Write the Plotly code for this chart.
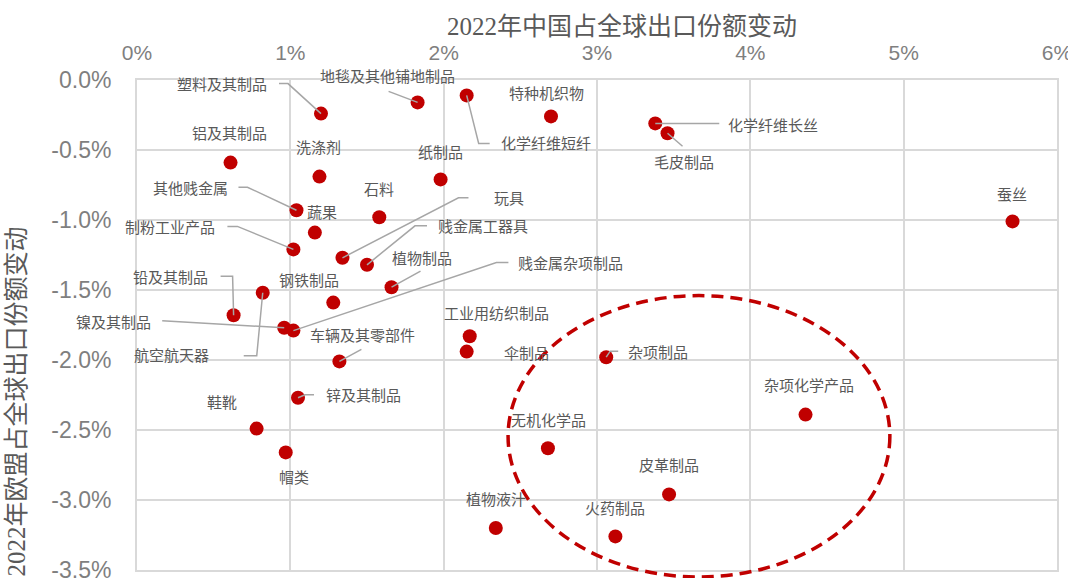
import plotly.graph_objects as go

# 2022 change in China's share of world exports (x, %) vs change in the EU's share (y, %)
categories = [
    "塑料及其制品", "地毯及其他铺地制品", "化学纤维短纤", "特种机织物", "化学纤维长丝",
    "毛皮制品", "蚕丝", "铝及其制品", "洗涤剂", "纸制品",
    "其他贱金属", "蔬果", "石料", "制粉工业产品", "玩具",
    "贱金属工器具", "植物制品", "钢铁制品", "铅及其制品", "航空航天器",
    "镍及其制品", "贱金属杂项制品", "车辆及其零部件", "工业用纺织制品", "伞制品",
    "杂项制品", "杂项化学产品", "无机化学品", "皮革制品", "火药制品",
    "植物液汁", "锌及其制品", "鞋靴", "帽类",
]
china_share_change = [
    1.20, 1.83, 2.15, 2.70, 3.38,
    3.46, 5.71, 0.61, 1.19, 1.98,
    1.04, 1.16, 1.58, 1.02, 1.34,
    1.50, 1.66, 1.28, 0.63, 0.82,
    0.96, 1.02, 1.32, 2.17, 2.15,
    3.06, 4.36, 2.68, 3.47, 3.12,
    2.34, 1.05, 0.78, 0.97,
]
eu_share_change = [
    -0.24, -0.16, -0.11, -0.26, -0.31,
    -0.38, -1.01, -0.59, -0.69, -0.71,
    -0.93, -1.09, -0.98, -1.21, -1.27,
    -1.32, -1.48, -1.59, -1.68, -1.52,
    -1.77, -1.79, -2.01, -1.83, -1.94,
    -1.98, -2.39, -2.63, -2.96, -3.26,
    -3.20, -2.27, -2.49, -2.66,
]
x_ticks = [0, 1, 2, 3, 4, 5, 6]
y_ticks = [0.0, -0.5, -1.0, -1.5, -2.0, -2.5, -3.0, -3.5]

# Highlighted cluster (ellipse bounds in axis units)
cluster_x = (2.42, 4.91)
cluster_y = (-3.55, -1.54)

# Label placement: pixel offset of label centre from its point (right, down)
label_offset = {
    "塑料及其制品": (-99, -30), "地毯及其他铺地制品": (-30, -27), "化学纤维短纤": (79, 47),
    "特种机织物": (-5, -24), "化学纤维长丝": (118, 1), "毛皮制品": (16, 28),
    "蚕丝": (-1, -28), "铝及其制品": (-1, -30), "洗涤剂": (-1, -30), "纸制品": (0, -28),
    "其他贱金属": (-106, -23), "蔬果": (7, -21), "石料": (0, -29), "制粉工业产品": (-123, -23),
    "玩具": (167, -60), "贱金属工器具": (116, -39), "植物制品": (30, -30),
    "钢铁制品": (-24, -23), "铅及其制品": (-63, -39), "航空航天器": (-91, 62),
    "镍及其制品": (-171, -6), "贱金属杂项制品": (277, -68), "车辆及其零部件": (23, -27),
    "工业用纺织制品": (27, -24), "伞制品": (60, 1), "杂项制品": (52, -6),
    "杂项化学产品": (3, -30), "无机化学品": (1, -29), "皮革制品": (0, -30),
    "火药制品": (0, -29), "植物液汁": (0, -30), "锌及其制品": (65, -3),
    "鞋靴": (-35, -27), "帽类": (8, 24),
}
# Leader lines: pixel vertices after the point (right, down)
leader_path = {
    "塑料及其制品": [(-33, -30), (-42, -30)],
    "地毯及其他铺地制品": [(-29, -11)],
    "化学纤维短纤": [(12, 48), (23, 48)],
    "化学纤维长丝": [(64, 0)],
    "毛皮制品": [(15, 13)],
    "其他贱金属": [(-49, -23), (-58, -23)],
    "制粉工业产品": [(-56, -23), (-66, -23)],
    "玩具": [(116, -60), (126, -60)],
    "贱金属工器具": [(48, -39), (60, -39)],
    "植物制品": [(29, -16)],
    "铅及其制品": [(-1, -39), (-13, -39)],
    "航空航天器": [(-6, 63), (-19, 63)],
    "镍及其制品": [(-122, -7)],
    "贱金属杂项制品": [(203, -68), (215, -68)],
    "车辆及其零部件": [(22, -12)],
    "杂项制品": [(4, -6), (12, -6)],
    "锌及其制品": [(7, -3), (16, -3)],
}

W, H = 1068, 578
MARGIN = dict(l=137, r=11, t=80, b=8)
X_RANGE = [0, 6]
Y_RANGE = [-3.5, 0]
px_x = (W - MARGIN["l"] - MARGIN["r"]) / (X_RANGE[1] - X_RANGE[0])
px_y = (H - MARGIN["t"] - MARGIN["b"]) / (Y_RANGE[1] - Y_RANGE[0])


def y_to_paper(v):
    return (v - Y_RANGE[0]) / (Y_RANGE[1] - Y_RANGE[0])


RED = "#C00000"
GRID = "#D9D9D9"
TEXT = "#595959"
TICK = "#7F7F7F"
LEADER = "#A6A6A6"
CJK = "Noto Sans CJK SC"
NUM = "Liberation Sans Narrow, Liberation Sans, sans-serif"
SERIF = "Liberation Serif, " + CJK

fig = go.Figure()

fig.add_trace(go.Scatter(
    x=china_share_change, y=eu_share_change, mode="markers",
    marker=dict(size=14, color=RED, line=dict(width=0)),
    text=categories, hoverinfo="text", showlegend=False,
))

# leader lines drawn from each point through its pixel vertices
lx, ly = [], []
for name, x, y in zip(categories, china_share_change, eu_share_change):
    if name not in leader_path:
        continue
    lx.append(x)
    ly.append(y)
    for dx, dy in leader_path[name]:
        lx.append(x + dx / px_x)
        ly.append(y - dy / px_y)
    lx.append(None)
    ly.append(None)
fig.add_trace(go.Scatter(
    x=lx, y=ly, mode="lines", line=dict(color=LEADER, width=1.5),
    hoverinfo="skip", showlegend=False,
))

for name, x, y in zip(categories, china_share_change, eu_share_change):
    dx, dy = label_offset[name]
    fig.add_annotation(
        x=x, y=y, xref="x", yref="y", text=name, showarrow=False,
        xshift=dx, yshift=-dy, xanchor="center", yanchor="middle",
        font=dict(family=CJK, size=15, color=TEXT),
    )

# dashed ellipse around the cluster; vertical extent in paper units so it may run past the frame
fig.add_shape(
    type="circle", xref="x", yref="paper",
    x0=cluster_x[0], x1=cluster_x[1],
    y0=y_to_paper(cluster_y[0]), y1=y_to_paper(cluster_y[1]),
    line=dict(color=RED, width=3.5, dash="12px,7px"),
)

fig.add_annotation(
    xref="paper", yref="paper", x=-0.131, y=0.345, text="2022年欧盟占全球出口份额变动",
    textangle=-90, showarrow=False, xanchor="center", yanchor="middle",
    font=dict(family=SERIF, size=25, color=TEXT),
)

fig.update_layout(
    width=W, height=H, margin=MARGIN,
    paper_bgcolor="white", plot_bgcolor="white",
    title=dict(
        text="2022年中国占全球出口份额变动", x=622 / W, xanchor="center",
        y=1 - 26 / H, yanchor="middle",
        font=dict(family=SERIF, size=25, color=TEXT),
    ),
    xaxis=dict(
        range=X_RANGE, side="top", tickvals=x_ticks,
        ticktext=[f"{v}%" for v in x_ticks],
        showgrid=True, gridcolor=GRID, gridwidth=2,
        zeroline=True, zerolinecolor=GRID, zerolinewidth=2,
        showline=True, mirror=True, linecolor=GRID, linewidth=2,
        ticks="", ticklabelstandoff=10, ticklabeloverflow="allow",
        automargin=False,
        tickfont=dict(family=NUM, size=21, color=TICK),
    ),
    yaxis=dict(
        range=Y_RANGE, tickvals=y_ticks,
        ticktext=[f"{v:.1f}%" for v in y_ticks],
        showgrid=True, gridcolor=GRID, gridwidth=2,
        zeroline=True, zerolinecolor=GRID, zerolinewidth=2,
        showline=True, mirror=True, linecolor=GRID, linewidth=2,
        ticks="", ticklabelstandoff=19, ticklabeloverflow="allow",
        automargin=False,
        tickfont=dict(family=NUM, size=23, color=TICK),
    ),
)

fig.write_html("out.html")
